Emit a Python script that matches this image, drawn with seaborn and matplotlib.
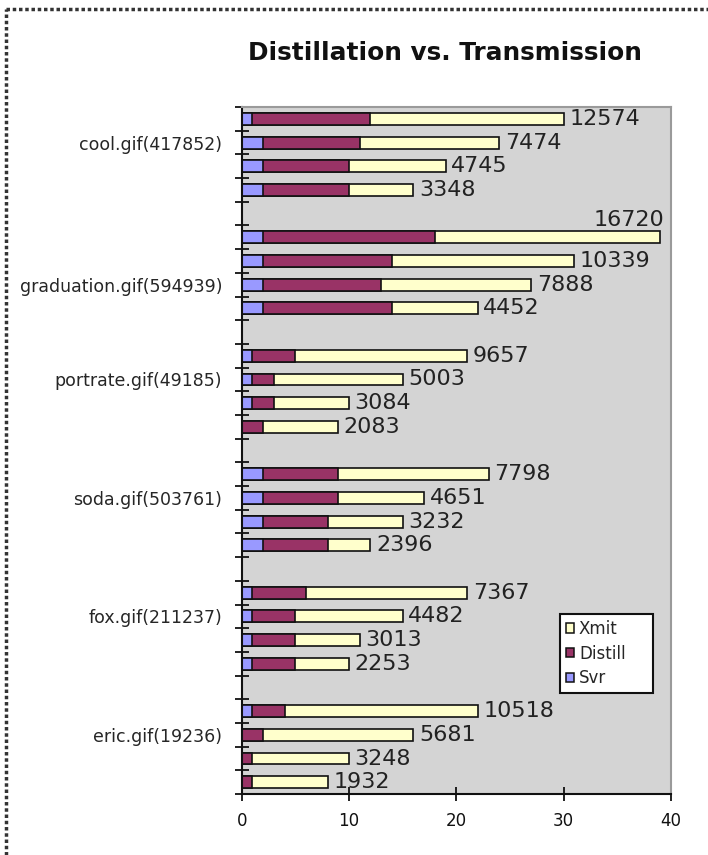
import matplotlib
matplotlib.use("Agg")
import matplotlib.pyplot as plt
from matplotlib.patches import Patch
from matplotlib.lines import Line2D
import numpy as np
import pandas as pd
import seaborn as sns

# Images (with original sizes in bytes)
files = ["cool.gif(417852)", "graduation.gif(594939)", "portrate.gif(49185)",
         "soda.gif(503761)", "fox.gif(211237)", "eric.gif(19236)"]

# Time spent per stage, four distillation settings per image
svr = [[1, 2, 2, 2], [2, 2, 2, 2], [1, 1, 1, 0],
       [2, 2, 2, 2], [1, 1, 1, 1], [1, 0, 0, 0]]
distill = [[11, 9, 8, 8], [16, 12, 11, 12], [4, 2, 2, 2],
           [7, 7, 6, 6], [5, 4, 4, 4], [3, 2, 1, 1]]
xmit = [[18, 13, 9, 6], [21, 17, 14, 8], [16, 12, 7, 7],
        [14, 8, 7, 4], [15, 10, 6, 5], [18, 14, 9, 7]]

# Distilled output size (bytes) shown next to each bar
sizes = [[12574, 7474, 4745, 3348], [16720, 10339, 7888, 4452],
         [9657, 5003, 3084, 2083], [7798, 4651, 3232, 2396],
         [7367, 4482, 3013, 2253], [10518, 5681, 3248, 1932]]

series = ["Xmit", "Distill", "Svr"]
colors = {"Svr": "#9999ff", "Distill": "#993366", "Xmit": "#ffffcc"}

# Row (within each group) where the image name is printed
label_row = [1, 2, 1, 1, 1, 1]

# Build a long table: one row per bar, placed on a 29-row grid
rows = []
for g, name in enumerate(files):
    for b in range(4):
        pos = 5 * g + b + 0.5
        s, d, x = svr[g][b], distill[g][b], xmit[g][b]
        rows.append(dict(file=name, pos=pos, svr=s, distill=d, xmit=x,
                         cum_svr=s, cum_distill=s + d, cum_xmit=s + d + x,
                         size=sizes[g][b]))
df = pd.DataFrame(rows)

sns.set_theme(style="white")
plt.rcParams["font.family"] = ["DejaVu Sans"]

fig = plt.figure(figsize=(7.08, 8.55), dpi=100)
ax = fig.add_axes([0.3414, 0.0713, 0.6063, 0.8035])
ax.set_facecolor("#d4d4d4")

# Stacked bars: draw cumulative totals from the longest to the shortest
for key, col in [("Xmit", "cum_xmit"), ("Distill", "cum_distill"), ("Svr", "cum_svr")]:
    sns.barplot(data=df, x=col, y="pos", orient="h", native_scale=True,
                width=0.5, color=colors[key], saturation=1,
                edgecolor="#111111", linewidth=1.2, errorbar=None, ax=ax)

ax.set_xlim(0, 40)
ax.set_ylim(29, 0)
ax.set_xlabel("")
ax.set_ylabel("")

# Value labels; a label that would run off the chart sits above its bar
for _, r in df.iterrows():
    total = r["cum_xmit"]
    if total > 35:
        ax.annotate(f"{int(r['size'])}", xy=(total + 0.35, r["pos"] - 0.73),
                    ha="right", va="center", fontsize=16, color="#222222",
                    annotation_clip=False)
    else:
        ax.annotate(f"{int(r['size'])}", xy=(total, r["pos"]), xytext=(4, 0),
                    textcoords="offset points", ha="left", va="center",
                    fontsize=16, color="#222222", annotation_clip=False)

# Axis ticks
ax.set_xticks([0, 10, 20, 30, 40])
ax.set_xticklabels(["0", "10", "20", "30", "40"], fontsize=12)
ax.tick_params(axis="x", direction="inout", length=10, width=1.3, pad=8,
               colors="#111111", bottom=True)

ax.set_yticks(np.arange(0, 30))
ax.set_yticklabels([])
ax.tick_params(axis="y", which="major", direction="inout", length=10,
               width=1.3, left=True, colors="#111111")
label_pos = [5 * g + label_row[g] + 0.5 for g in range(len(files))]
ax.set_yticks(label_pos, minor=True)
ax.set_yticklabels(files, minor=True, fontsize=12.5)
ax.tick_params(axis="y", which="minor", length=0, pad=14)

for side in ["left", "bottom"]:
    ax.spines[side].set_color("#111111")
    ax.spines[side].set_linewidth(1.5)
for side in ["top", "right"]:
    ax.spines[side].set_color("#9a9a9a")
    ax.spines[side].set_linewidth(1.5)

# Legend
handles = [Patch(facecolor=colors[k], edgecolor="#111111", linewidth=1.1, label=k)
           for k in series]
leg = ax.legend(handles=handles, loc="upper left",
                bbox_to_anchor=(0.741, 0.262, 0.2166, 0.0), mode="expand",
                frameon=True, fancybox=False, fontsize=12, handlelength=0.5,
                handleheight=0.5, handletextpad=0.3, labelspacing=0.4,
                borderpad=0.35, borderaxespad=0)
leg.get_frame().set_edgecolor("#111111")
leg.get_frame().set_linewidth(1.5)
leg.get_frame().set_facecolor("white")
leg.get_frame().set_alpha(1)

# Title
fig.text(0.628, 0.938, "Distillation vs. Transmission", ha="center", va="center",
         fontsize=17.8, fontweight="bold", color="#111111")

# Dotted frame on the left and top edges
fig.add_artist(Line2D([0.009, 0.009], [0, 0.989], transform=fig.transFigure,
                      color="#333333", linewidth=2.5, linestyle=(0, (1, 0.8))))
fig.add_artist(Line2D([0.009, 1.0], [0.989, 0.989], transform=fig.transFigure,
                      color="#333333", linewidth=2.5, linestyle=(0, (1, 0.8))))

fig.savefig("out.png", dpi=100)
